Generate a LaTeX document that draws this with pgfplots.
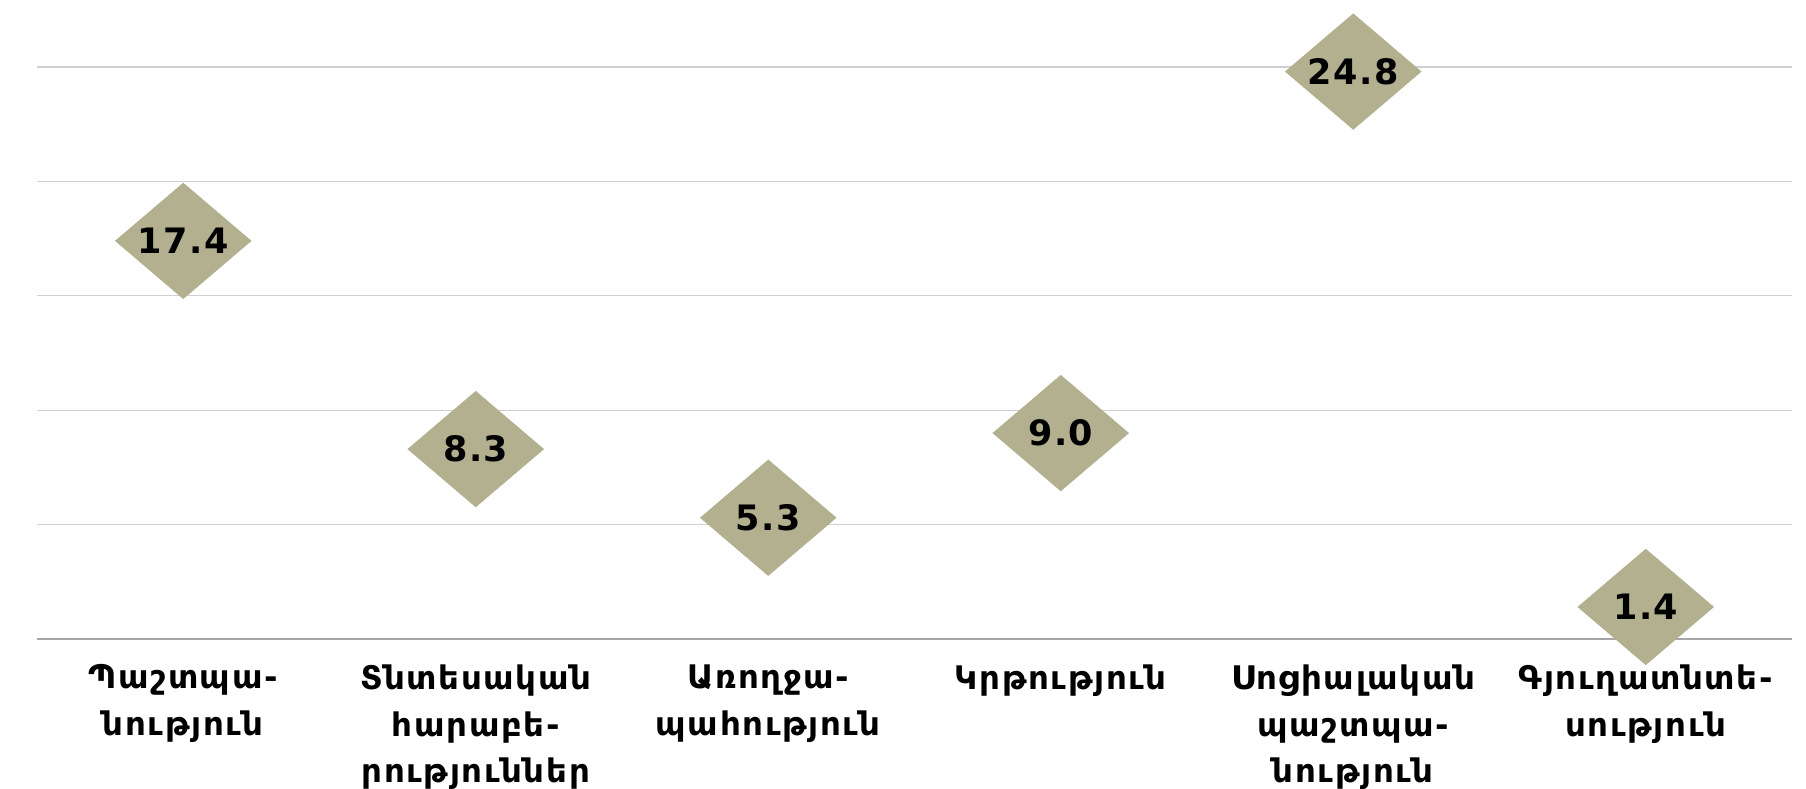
\documentclass[border=0pt]{standalone}
\usepackage{pgfplots}
\pgfplotsset{compat=1.18}
\usepackage{fontspec}
\setmainfont{DejaVu Sans}
\newfontfamily\armfont[LetterSpace=5]{DejaVu Sans}
\newfontfamily\numfont[LetterSpace=4]{DejaVu Sans}
\definecolor{diam}{RGB}{178,176,143}
\definecolor{gridc}{RGB}{208,208,208}
\definecolor{axisc}{RGB}{166,166,166}

\begin{document}
\begin{tikzpicture}
\begin{axis}[
  scale only axis,
  width=702pt,
  height=228.8pt,
  xmin=-0.5, xmax=5.5,
  ymin=0, ymax=25,
  clip=false,
  axis x line*=bottom,
  axis y line*=left,
  x axis line style={draw=axisc, line width=1pt},
  y axis line style={draw=none},
  xtick=data,
  xtick style={draw=none},
  ytick style={draw=none},
  xticklabels={
    {Պաշտպա-\\նություն},
    {Տնտեսական\\հարաբե-\\րություններ},
    {Առողջա-\\պահություն},
    {Կրթություն},
    {Սոցիալական\\պաշտպա-\\նություն},
    {Գյուղատնտե-\\սություն}},
  xticklabel style={align=center, font=\armfont\bfseries\fontsize{13}{18.6}\selectfont, anchor=north, yshift=-6.8pt},
  ytick={5,10,15,20,25},
  yticklabels={},
  ymajorgrids,
  grid style={draw=gridc, line width=0.5pt},
  nodes near coords={\pgfmathprintnumber[assume math mode=true,fixed,precision=1,fixed zerofill]{\pgfplotspointmeta}},
  nodes near coords align=center,
  every node near coord/.append style={anchor=center, font=\numfont\bfseries\fontsize{14}{16}\selectfont, text=black},
]
\addplot[only marks, mark=diamond*, mark size=23pt, draw=diam, fill=diam,
  mark options={xscale=1.565, fill=diam, draw=diam}]
  coordinates {(0,17.4) (1,8.3) (2,5.3) (3,9.0) (4,24.8) (5,1.4)};
\end{axis}
\pgfresetboundingbox
\path ([xshift=-14.8pt,yshift=-60pt]current axis.south west) rectangle ([xshift=5.6pt,yshift=26.8pt]current axis.north east);
\end{tikzpicture}
\end{document}
